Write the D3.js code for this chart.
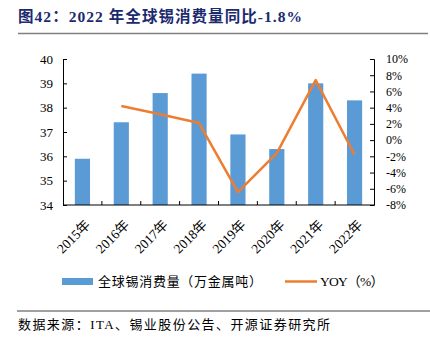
<!DOCTYPE html>
<html><head><meta charset="utf-8">
<script src="https://cdn.jsdelivr.net/npm/d3@7"></script>
<style>body{margin:0;background:#fff}svg{display:block}</style>
</head><body>
<svg id="c" width="430" height="339"></svg>
<script>
const categories = ["2015年","2016年","2017年","2018年","2019年","2020年","2021年","2022年"];
const consumption = [35.9, 37.4, 38.6, 39.4, 36.9, 36.3, 39.0, 38.3];
const yoy = [null, 4.2, 3.2, 2.1, -6.4, -1.6, 7.4, -1.8];
const leftTicks = [34,35,36,37,38,39,40];
const rightTicks = [-8,-6,-4,-2,0,2,4,6,8,10];

const svg = d3.select("#c");
const serif = "'Liberation Serif','Times New Roman','Noto Sans CJK SC',serif";
const L = 63, R = 374, T = 59, B = 205;

// title
svg.append("text").attr("x",18).attr("y",22).attr("fill","#1c2a6e")
  .attr("font-family",serif).attr("font-weight","bold").attr("font-size",15.5)
  .attr("textLength",284).attr("lengthAdjust","spacing")
  .text("图42：2022 年全球锡消费量同比-1.8%");
svg.append("line").attr("x1",18).attr("x2",428).attr("y1",33.5).attr("y2",33.5)
  .attr("stroke","#808080").attr("stroke-width",1.5);

const x = d3.scaleBand().domain(categories).range([L,R]).paddingInner(0.61).paddingOuter(0.305);
const xb = d3.scaleBand().domain(categories).range([L,R]);
const y = d3.scaleLinear().domain([34,40]).range([B,T]);
const y2 = d3.scaleLinear().domain([-8,10]).range([B,T]);

// bars
svg.selectAll("rect.bar").data(consumption).enter().append("rect")
  .attr("x",(d,i)=>x(categories[i])).attr("width",x.bandwidth())
  .attr("y",d=>y(d)).attr("height",d=>B-y(d)).attr("fill","#5b9bd5");

// line
const line = d3.line().defined(d=>d.v!==null).x(d=>xb(d.c)+xb.bandwidth()/2).y(d=>y2(d.v));
svg.append("path").datum(categories.map((c,i)=>({c,v:yoy[i]})))
  .attr("d",line).attr("fill","none").attr("stroke","#ed7d31").attr("stroke-width",2.5)
  .attr("stroke-linejoin","round");

// left axis
const ga = svg.append("g").attr("transform",`translate(${L},0)`)
  .call(d3.axisLeft(y).tickValues(leftTicks).tickSize(-4).tickPadding(10).tickFormat(d3.format("d")));
ga.selectAll("text").attr("font-family",serif).attr("font-size",13).attr("fill","#000");
// right axis
const gr = svg.append("g").attr("transform",`translate(${R},0)`)
  .call(d3.axisRight(y2).tickValues(rightTicks).tickSize(-4).tickPadding(12).tickFormat(d=>d+"%"));
gr.selectAll("text").attr("font-family",serif).attr("font-size",12).attr("fill","#000");
[ga,gr].forEach(g=>{g.select(".domain").attr("stroke","#000");g.selectAll(".tick line").attr("stroke","#000");});

// bottom axis
const gb = svg.append("g").attr("transform",`translate(0,${B})`);
gb.append("line").attr("x1",L).attr("x2",R).attr("stroke","#000");
gb.selectAll("line.t").data(categories.slice(1)).enter().append("line")
  .attr("x1",d=>xb(d)).attr("x2",d=>xb(d)).attr("y1",0).attr("y2",-4).attr("stroke","#000");
gb.selectAll("text").data(categories).enter().append("text")
  .attr("transform",d=>`translate(${xb(d)+xb.bandwidth()/2+2},14) rotate(-45)`)
  .attr("text-anchor","end").attr("dy","0.7em")
  .attr("font-family",serif).attr("font-size",13.5).attr("fill","#000").text(d=>d);

// legend
svg.append("rect").attr("x",62).attr("y",278).attr("width",31).attr("height",7).attr("fill","#5b9bd5");
svg.append("text").attr("x",98).attr("y",286).attr("font-family",serif).attr("font-size",13)
  .attr("textLength",164).attr("lengthAdjust","spacing").text("全球锡消费量（万金属吨）");
svg.append("line").attr("x1",285).attr("x2",317).attr("y1",281.5).attr("y2",281.5).attr("stroke","#ed7d31").attr("stroke-width",2.5);
svg.append("text").attr("x",320).attr("y",286).attr("font-family",serif).attr("font-size",13.5)
  .attr("textLength",64).attr("lengthAdjust","spacing").text("YOY（%）");

// footer
svg.append("line").attr("x1",17).attr("x2",430).attr("y1",311).attr("y2",311).attr("stroke","#808080").attr("stroke-width",1.5);
svg.append("text").attr("x",18).attr("y",329).attr("font-family",serif).attr("font-size",13)
  .attr("textLength",312).attr("lengthAdjust","spacing").text("数据来源：ITA、锡业股份公告、开源证券研究所");
</script>
</body></html>
